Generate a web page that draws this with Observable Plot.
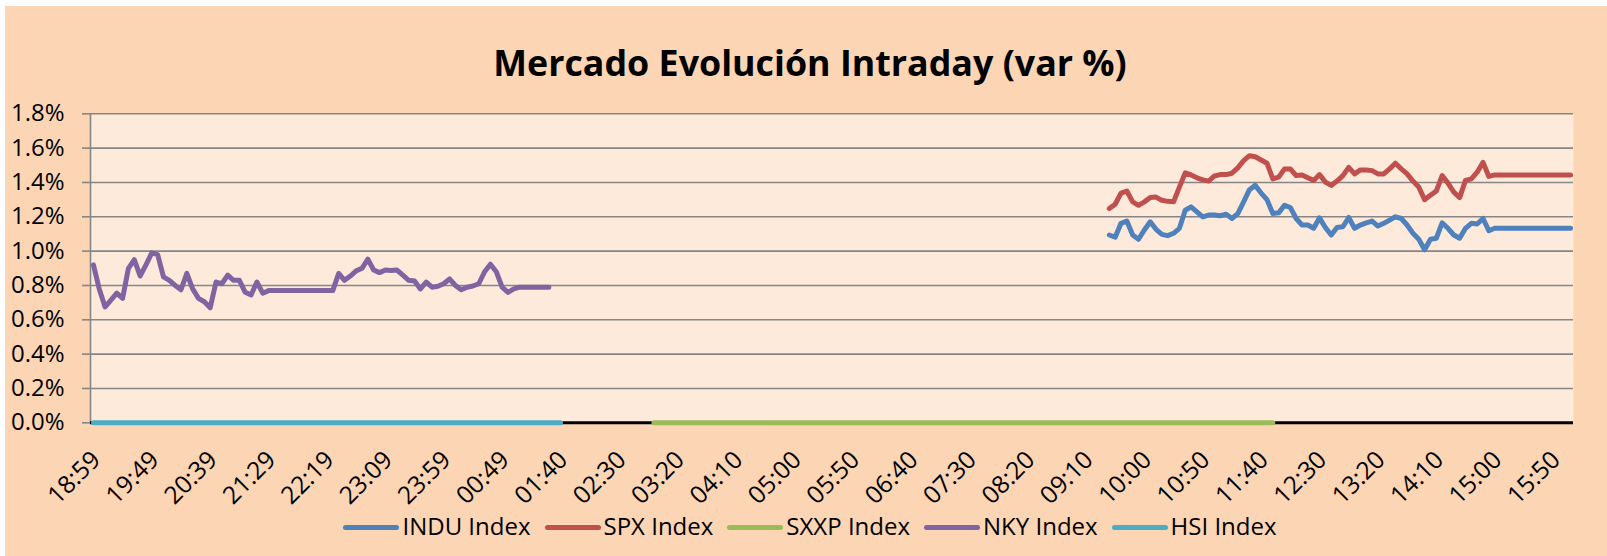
<!DOCTYPE html>
<html>
<head>
<meta charset="utf-8">
<script src="https://cdn.jsdelivr.net/npm/d3@7"></script>
<script src="https://cdn.jsdelivr.net/npm/@observablehq/plot@0.6"></script>
<style>
  html, body { margin: 0; padding: 0; background: #ffffff; width: 1607px; height: 556px; overflow: hidden; }
  #chart { position: absolute; left: 5px; top: 6px; width: 1602px; height: 550px; background: #FCD5B5; font-family: "Open Sans", sans-serif; color: #000; }
  #title { position: absolute; left: 0; top: 34px; width: 1602px; padding-left: 8px; box-sizing: border-box; text-align: center; font-weight: 700; font-size: 35.8px; line-height: 44px; white-space: nowrap; }
  #plot { position: absolute; left: 0; top: 94px; }
  #legend { position: absolute; left: 0; top: 505px; width: 1602px; padding-left: 8px; box-sizing: border-box; display: flex; justify-content: center; align-items: center; font-size: 24px; line-height: 30px; white-space: nowrap; }
  .item { display: flex; align-items: center; margin: 0 7px; }
  .sw { display: inline-block; width: 56px; height: 5px; border-radius: 3px; margin-right: 3px; margin-top: 2px; }
</style>
</head>
<body>
<div id="chart">
  <div id="title">Mercado Evolución Intraday (var %)</div>
  <div id="plot"></div>
  <div id="legend"></div>
</div>
<script>
// Category tick labels (every 10th category of a 254-category time axis)
const tickLabels = ["18:59","19:49","20:39","21:29","22:19","23:09","23:59","00:49","01:40","02:30","03:20","04:10","05:00","05:50","06:40","07:30","08:20","09:10","10:00","10:50","11:40","12:30","13:20","14:10","15:00","15:50"];
const tickIndex = [0,10,20,30,40,50,60,70,80,90,100,110,120,130,140,150,160,170,180,190,200,210,220,230,240,250];
const categoryCount = 254;
const yTicks = [0,0.2,0.4,0.6,0.8,1.0,1.2,1.4,1.6,1.8];

const seriesNames = ["INDU Index","SPX Index","SXXP Index","NKY Index","HSI Index"];
const seriesColors = ["#4F81BD","#C0504D","#9BBB59","#8064A2","#4BACC6"];

// values in % ; each series starts at the given category index
const induStart = 174;
const indu = [1.094,1.081,1.162,1.175,1.094,1.069,1.123,1.171,1.127,1.098,1.090,1.104,1.133,1.238,1.258,1.229,1.200,1.210,1.210,1.206,1.215,1.190,1.219,1.287,1.358,1.383,1.338,1.300,1.219,1.223,1.267,1.254,1.190,1.152,1.152,1.133,1.194,1.138,1.094,1.138,1.142,1.196,1.133,1.152,1.165,1.175,1.146,1.162,1.181,1.200,1.190,1.152,1.104,1.069,1.008,1.069,1.075,1.165,1.133,1.094,1.075,1.133,1.162,1.158,1.190,1.119,1.133,
  1.133,1.133,1.133,1.133,1.133,1.133,1.133,1.133,1.133,1.133,1.133,1.133,1.133];

const spxStart = 174;
const spx = [1.248,1.273,1.338,1.350,1.287,1.267,1.287,1.312,1.315,1.296,1.290,1.287,1.373,1.456,1.444,1.427,1.415,1.408,1.438,1.446,1.446,1.454,1.485,1.527,1.556,1.550,1.531,1.512,1.421,1.431,1.479,1.479,1.440,1.444,1.427,1.412,1.446,1.402,1.383,1.408,1.440,1.488,1.450,1.473,1.473,1.469,1.450,1.450,1.479,1.512,1.479,1.450,1.408,1.373,1.300,1.325,1.350,1.440,1.396,1.344,1.312,1.412,1.421,1.460,1.517,1.435,1.444,
  1.444,1.444,1.444,1.444,1.444,1.444,1.444,1.444,1.444,1.444,1.444,1.444,1.444];

const sxxpStart = 96;
const sxxp = [0,0,0,0,0,0,0,0,0,0, 0,0,0,0,0,0,0,0,0,0, 0,0,0,0,0,0,0,0,0,0, 0,0,0,0,0,0,0,0,0,0,
  0,0,0,0,0,0,0,0,0,0, 0,0,0,0,0,0,0,0,0,0, 0,0,0,0,0,0,0,0,0,0, 0,0,0,0,0,0,0,0,0,0,
  0,0,0,0,0,0,0,0,0,0, 0,0,0,0,0,0,0,0,0,0, 0,0,0,0,0,0,0];

const nkyStart = 0;
const nky = [0.920,0.780,0.675,0.715,0.755,0.725,0.900,0.950,0.855,0.920,0.990,0.980,0.850,0.830,0.800,0.775,0.870,0.780,0.725,0.705,0.670,0.820,0.810,0.860,0.830,0.830,0.760,0.745,0.820,0.755,
  0.770,0.770,0.770,0.770,0.770,0.770,0.770,0.770,0.770,0.770,0.770,0.770,
  0.870,0.830,0.855,0.885,0.900,0.953,0.890,0.875,0.890,0.887,0.890,0.860,0.830,0.826,0.780,0.820,0.790,0.795,0.810,0.838,0.800,0.775,0.790,0.797,0.810,0.880,0.924,0.880,0.790,0.760,0.780,
  0.790,0.790,0.790,0.790,0.790,0.790];

const hsiStart = 0;
const hsi = [0,0,0,0,0,0,0,0,0,0, 0,0,0,0,0,0,0,0,0,0, 0,0,0,0,0,0,0,0,0,0, 0,0,0,0,0,0,0,0,0,0,
  0,0,0,0,0,0,0,0,0,0, 0,0,0,0,0,0,0,0,0,0, 0,0,0,0,0,0,0,0,0,0, 0,0,0,0,0,0,0,0,0,0, 0];

const seriesData = [[induStart, indu],[spxStart, spx],[sxxpStart, sxxp],[nkyStart, nky],[hsiStart, hsi]];
const rows = (start, vals) => vals.map((v, k) => ({i: start + k, v}));

const lineMarks = seriesData.map(([s, vals], k) =>
  Plot.line(rows(s, vals), {x: "i", y: "v", stroke: seriesColors[k], strokeWidth: 5, strokeLinecap: "round", strokeLinejoin: "round"})
);

const chart = Plot.plot({
  width: 1602,
  height: 400,
  marginLeft: 85,
  marginRight: 34,
  marginTop: 13.3,
  marginBottom: 77.7,
  style: {fontFamily: "'Open Sans', sans-serif", fontSize: "24px", background: "transparent", color: "#000", overflow: "visible"},
  x: {type: "linear", domain: [-0.5, categoryCount - 0.5], axis: null},
  y: {domain: [0, 1.8], axis: null},
  marks: [
    Plot.frame({fill: "#FDEADA", stroke: "none"}),
    Plot.gridY(yTicks.filter(d => d > 0), {stroke: "#868686", strokeOpacity: 1, strokeWidth: 1.6}),
    Plot.axisY(yTicks, {tickSize: 8, tickPadding: 18, stroke: "#868686", strokeWidth: 1.6, fontSize: 24, tickFormat: d => d.toFixed(1) + "%", label: null}),
    Plot.ruleX([-0.5], {stroke: "#868686", strokeWidth: 1.6}),
    Plot.ruleY([0], {stroke: "#000", strokeWidth: 3}),
    ...lineMarks,
    Plot.text(tickIndex, {x: d => d, text: (d, i) => tickLabels[i], frameAnchor: "bottom", rotate: -45, textAnchor: "end", lineAnchor: "bottom", dx: 8.5, dy: 38.5, fontSize: 24.5, fill: "#000"})
  ]
});
document.getElementById("plot").appendChild(chart);

const legend = document.getElementById("legend");
seriesNames.forEach((name, k) => {
  const item = document.createElement("div");
  item.className = "item";
  const sw = document.createElement("span");
  sw.className = "sw";
  sw.style.background = seriesColors[k];
  const t = document.createElement("span");
  t.textContent = name;
  item.appendChild(sw);
  item.appendChild(t);
  legend.appendChild(item);
});
</script>
</body>
</html>
